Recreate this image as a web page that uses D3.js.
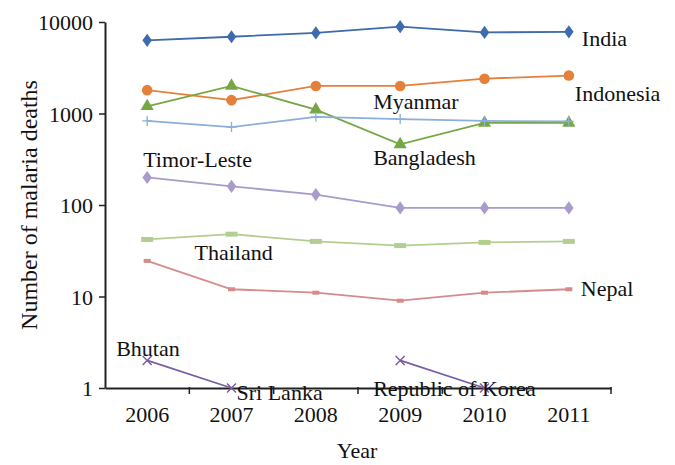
<!DOCTYPE html>
<html><head><meta charset="utf-8">
<script src="https://cdn.jsdelivr.net/npm/d3@7"></script>
<style>body{margin:0;background:#fff}svg{display:block}text{font-family:"Liberation Serif","DejaVu Serif",serif;fill:#111}</style>
</head><body><svg id="c" width="675" height="465"></svg>
<script>
const years = ["2006","2007","2008","2009","2010","2011"];
const yTicks = [1,10,100,1000,10000];
const india      = [6300,6900,7600,8900,7700,7800];
const indonesia  = [1800,1400,2000,2000,2400,2600];
const bangladesh = [1200,2000,1100,460,790,790];
const myanmar    = [830,710,920,870,830,820];
const timorLeste = [200,160,130,93,93,93];
const thailand   = [42,48,40,36,39,40];
const nepal      = [24.5,12,11,9,11,12];
const bhutan     = [2,1,null,null,null,null];
const korea      = [null,null,null,2,1,null];

const series = [
  {name:"India", values:india, color:"#3D6BAC", marker:"diamond", size:50},
  {name:"Indonesia", values:indonesia, color:"#E4803A", marker:"circle", size:0},
  {name:"Bangladesh", values:bangladesh, color:"#76A746", marker:"triangle", size:75},
  {name:"Myanmar", values:myanmar, color:"#8BAEDD", marker:"plus", size:0},
  {name:"Timor-Leste", values:timorLeste, color:"#A99BCB", marker:"diamond", size:50},
  {name:"Thailand", values:thailand, color:"#B2CF91", marker:"dashThick", size:0},
  {name:"Nepal", values:nepal, color:"#D68B8B", marker:"dashThin", size:0},
  {name:"Bhutan", values:bhutan, color:"#7A5EA3", marker:"x", size:0},
  {name:"Republic of Korea", values:korea, color:"#7A5EA3", marker:"x", size:0}
];
// labels: text, anchor year, anchor value, dx, dy
const labels = [
  ["India","2011",7800,13,14],
  ["Indonesia","2011",2600,6,25],
  ["Myanmar","2009",870,-27,-10],
  ["Bangladesh","2009",460,-27,21],
  ["Timor-Leste","2006",200,-4,-10],
  ["Thailand","2007",48,-37,26],
  ["Nepal","2011",12,12,7],
  ["Bhutan","2006",2,-31,-4],
  ["Sri Lanka","2007",1,5,12],
  ["Republic of Korea","2009",2,-27,36]
];

const svg = d3.select("#c");
const m = {l:105, r:64, t:22, b:77};
const W = 675, H = 465;
const FS = "22px";
const x = d3.scaleBand().domain(years).range([m.l, W - m.r]);
const y = d3.scaleLog().domain([1,10000]).range([H - m.b, m.t]);

// y axis
const ya = svg.append("g").attr("transform",`translate(${m.l},0)`)
  .call(d3.axisLeft(y).tickValues(yTicks).tickFormat(d3.format("d")).tickSize(6).tickSizeOuter(0));
ya.select(".domain").attr("stroke","#222").attr("stroke-width",2);
ya.selectAll(".tick line").attr("stroke","#222").attr("stroke-width",1.5);
ya.selectAll(".tick text").attr("x",-12).attr("dy","0.36em").style("font-size",FS).attr("fill","#111");

// x axis
const xa = svg.append("g").attr("transform",`translate(0,${H - m.b})`)
  .call(d3.axisBottom(x).tickSize(0).tickSizeOuter(0));
xa.select(".domain").attr("stroke","#222").attr("stroke-width",2);
xa.selectAll(".tick text").attr("y",18).style("font-size",FS).attr("fill","#111");
// boundary ticks
const bounds = years.map(d=> x(d)).concat([x.range()[1]]);
svg.append("g").selectAll("line").data(bounds.slice(1)).join("line")
  .attr("x1",d=>d).attr("x2",d=>d).attr("y1",H-m.b-1).attr("y2",H-m.b+6)
  .attr("stroke","#222").attr("stroke-width",1.5);

const cx = d => x(d) + x.bandwidth()/2;
const line = d3.line().defined(d=>d.v!=null).x(d=>cx(d.yr)).y(d=>y(d.v));

series.forEach(s=>{
  const pts = s.values.map((v,i)=>({yr:years[i], v}));
  const g = svg.append("g");
  g.append("path").datum(pts).attr("d",line).attr("fill","none").attr("stroke",s.color).attr("stroke-width",1.8);
  pts.filter(p=>p.v!=null).forEach(p=>{
    const px = cx(p.yr), py = y(p.v);
    if (s.marker==="diamond") g.append("path").attr("d",d3.symbol(d3.symbolDiamond,s.size)()).attr("transform",`translate(${px},${py}) scale(1.25,1)`).attr("fill",s.color);
    else if (s.marker==="circle") g.append("circle").attr("cx",px).attr("cy",py).attr("r",5.3).attr("fill",s.color);
    else if (s.marker==="triangle") g.append("path").attr("d",d3.symbol(d3.symbolTriangle,s.size)()).attr("transform",`translate(${px},${py})`).attr("fill",s.color);
    else if (s.marker==="plus") g.append("path").attr("d",`M${px-5},${py}H${px+5}M${px},${py-5}V${py+5}`).attr("stroke",s.color).attr("stroke-width",1.3);
    else if (s.marker==="dashThick") g.append("rect").attr("x",px-6).attr("y",py-2.5).attr("width",12).attr("height",5).attr("fill",s.color);
    else if (s.marker==="dashThin") g.append("rect").attr("x",px-3.5).attr("y",py-2).attr("width",7).attr("height",4).attr("fill",s.color);
    else if (s.marker==="x") g.append("path").attr("d",`M${px-4.5},${py-4.5}L${px+4.5},${py+4.5}M${px-4.5},${py+4.5}L${px+4.5},${py-4.5}`).attr("stroke",s.color).attr("stroke-width",1.5);
  });
});

svg.append("g").selectAll("text").data(labels).join("text")
  .attr("x",d=>cx(d[1])+d[3]).attr("y",d=>y(d[2])+d[4])
  .style("font-size",FS).text(d=>d[0]);

svg.append("text").attr("x",357).attr("y",H-7).attr("text-anchor","middle").style("font-size",FS).text("Year");
svg.append("text").attr("transform",`translate(37,${(m.t+H-m.b)/2}) rotate(-90)`).attr("text-anchor","middle").style("font-size","24px").text("Number of malaria deaths");
</script></body></html>
